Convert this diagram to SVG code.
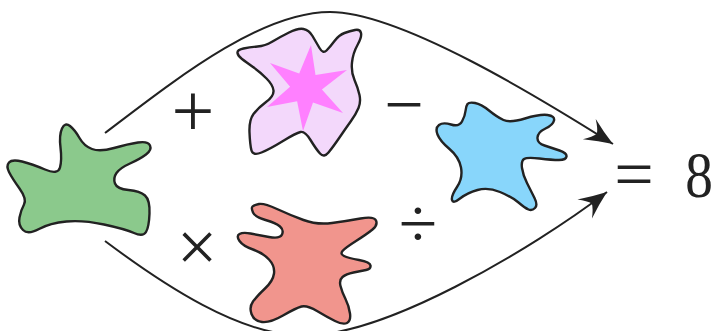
<svg xmlns="http://www.w3.org/2000/svg" width="712" height="331" viewBox="0 0 712 331">
<style>
.blob{stroke:#222;stroke-width:2.4;stroke-linejoin:round}
.conn{fill:none;stroke:#222;stroke-width:2}
.op{font-family:'Liberation Serif',serif;font-size:70px;fill:#222;text-anchor:middle}
</style>
<defs>
<marker id="stealth" markerUnits="userSpaceOnUse" viewBox="-30 -15 32 30" markerWidth="32" markerHeight="30" refX="0" refY="0" orient="auto">
<path d="M0,0 Q-14,-5 -28,-12 Q-21,-5 -19,0 Q-21,5 -28,12 Q-14,5 0,0 Z" fill="#222"/>
</marker>
</defs>
<rect width="712" height="331" fill="#fff"/>
<g id="connectors">
<path class="conn" d="M105,133 C175,80 260,12 330,12 C400,12 540,98 613,144" marker-end="url(#stealth)"/>
<path class="conn" d="M105,241 C165,286 240,335 300,335 C380,340 532,249 607,192" marker-end="url(#stealth)"/>
</g>
<g id="green">
<path class="blob" fill="#8bc98c" d="M62,128.5 Q65,122 70,126 Q75,130 79.5,138 Q84,146 92,149 Q100,152 114,148 Q128,144 138,142.5 Q148,141 150,145.5 Q152,150 146,154.5 Q140,159 130,163.5 Q120,168 116.5,173 Q113,178 115,183.5 Q117,189 128.5,190 Q140,191 145,195.5 Q150,200 149.5,213.5 Q149,227 146,232 Q143,237 134,233 Q125,229 104,224.5 Q83,220 66.5,221.5 Q50,223 39,229 Q28,235 23,230 Q18,225 19.5,217.5 Q21,210 24,204.5 Q27,199 19.5,188.5 Q12,178 9,172 Q6,166 9,162.5 Q12,159 22,161.5 Q32,164 45,169.5 Q58,175 60,167.5 Q62,160 60.5,147.5 Q59,135 62,128.5 Z"/>
</g>
<g id="pink">
<path class="blob" fill="#f3d8fb" d="M237.5,53 Q237,50 243.5,48.5 Q250,47 257.5,46.5 Q265,46 272.5,41.5 Q280,37 289,32.5 Q298,28 303.5,29 Q309,30 312.5,36 Q316,42 319.5,48 Q323,54 326.5,50.5 Q330,47 334.5,41 Q339,35 344.5,33 Q350,31 355,30 Q360,29 361,33 Q362,37 357.5,45 Q353,53 352,62.5 Q351,72 354.5,80 Q358,88 359.5,95 Q361,102 358.5,108 Q356,114 351,121 Q346,128 339.5,137.5 Q333,147 328.5,152.5 Q324,158 320,153.5 Q316,149 310.5,140 Q305,131 300.5,132 Q296,133 283,141 Q270,149 261.5,152.5 Q253,156 251.5,150.5 Q250,145 249.5,132.5 Q249,120 253.5,114 Q258,108 266,102 Q274,96 273.5,90.5 Q273,85 266.5,78.5 Q260,72 253,67 Q246,62 242,59 Q238,56 237.5,53 Z"/>
<polygon fill="#ff80ff" points="311,45 315.5,75.1 347,70 321.9,89.4 343,113 313,102.4 303,131 297.1,101.3 267,107 290.1,86.7 270,63 299.2,73.5"/>
</g>
<g id="blue">
<path class="blob" fill="#88d6fb" d="M467.5,104 Q469,102 475,103 Q481,104 489,110.5 Q497,117 503.5,120 Q510,123 525,118.5 Q540,114 547.5,115 Q555,116 554,120.5 Q553,125 545.5,128.5 Q538,132 537.5,137.5 Q537,143 544.5,145.5 Q552,148 559.5,150.5 Q567,153 566.5,156.5 Q566,160 559,160 Q552,160 539.5,158.5 Q527,157 524,159 Q521,161 522,168 Q523,175 527,183 Q531,191 534.5,198 Q538,205 535,208 Q532,211 528.5,209.5 Q525,208 518.5,202.5 Q512,197 500,192 Q488,187 477.5,190 Q467,193 460,198.5 Q453,204 452,200 Q451,196 457,187 Q463,178 461,167.5 Q459,157 449.5,149 Q440,141 437.5,134.5 Q435,128 439,125 Q443,122 451,124.5 Q459,127 462,121.5 Q465,116 465.5,111 Q466,106 467.5,104 Z"/>
</g>
<g id="red">
<path class="blob" fill="#f1958d" d="M252.5,206.5 Q254,205 259,204 Q264,203 277,209 Q290,215 303.5,220 Q317,225 332,223 Q347,221 360.5,218.5 Q374,216 376,220.5 Q378,225 372.5,229.5 Q367,234 356,241 Q345,248 342.5,251 Q340,254 344,256 Q348,258 359,260 Q370,262 370.5,265.5 Q371,269 366,270 Q361,271 353.5,272.5 Q346,274 342.5,277 Q339,280 340.5,286 Q342,292 345.5,299 Q349,306 350,313.5 Q351,321 347,323 Q343,325 335,321 Q327,317 317,311 Q307,305 301.5,306.5 Q296,308 283,315.5 Q270,323 262,322 Q254,321 251.5,314 Q249,307 253,301.5 Q257,296 265,288.5 Q273,281 274,273.5 Q275,266 269,259.5 Q263,253 253,249.5 Q243,246 239.5,241 Q236,236 239.5,234 Q243,232 250.5,233.5 Q258,235 269,237 Q280,239 282,234.5 Q284,230 280,226.5 Q276,223 265.5,220 Q255,217 253,212.5 Q251,208 252.5,206.5 Z"/>
</g>
<g id="operators">
<text class="op" x="193" y="136" style="font-size:76px">+</text>
<text class="op" x="404" y="128">−</text>
<text class="op" x="197" y="271" style="font-size:72px">×</text>
<text class="op" x="418" y="247">÷</text>
<text class="op" x="634" y="198">=</text>
<text class="op" transform="translate(699,197) scale(0.85,1)" x="0" y="0" style="font-size:65px">8</text>
</g>
</svg>
